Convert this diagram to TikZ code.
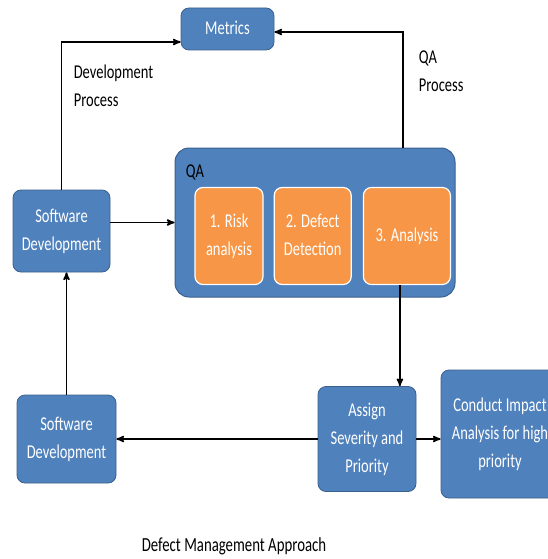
\documentclass[tikz,border=0pt]{standalone}
\usepackage{graphicx}
\usepackage{fontspec}
\setmainfont{Carlito}
\usetikzlibrary{arrows,positioning}
\definecolor{boxblue}{RGB}{79,129,189}
\definecolor{boxline}{RGB}{58,96,142}
\definecolor{boxorange}{RGB}{247,150,70}
\newcommand{\ctext}[1]{\scalebox{1}[1.35]{\begin{tabular}{@{}c@{}}#1\end{tabular}}}
\newcommand{\ltext}[1]{\scalebox{1}[1.35]{\begin{tabular}{@{}l@{}}#1\end{tabular}}}

\begin{document}
\begin{tikzpicture}[x=1pt,y=-1pt,->,>=stealth',line width=1.6pt,
		font=\fontsize{14.5}{20.7}\selectfont,
		blue node/.style={draw=boxline,fill=boxblue,line width=0.8pt,rounded corners=8pt,text=white,inner sep=1pt},
		step node/.style={draw=white,fill=boxorange,line width=1.2pt,rounded corners=8pt,text=white,inner sep=1pt},
		label node/.style={inner sep=0pt,anchor=north west}]
		\useasboundingbox (0,0) rectangle (548,559);
		\clip (0,0) rectangle (548,559);
		
		\node[blue node,minimum width=93pt,minimum height=42pt] (metrics) at (227.5,29) {\ctext{Metrics}};
		\node[blue node,minimum width=97pt,minimum height=82pt] (sd1) at (61.5,231) {\ctext{Software\\Development}};
		\node[blue node,minimum width=280pt,minimum height=149pt,line width=1pt,rounded corners=14pt] (qa) at (315,222.5) {};
		\node[label node,text=black] (qalabel) at (185,157) {\ltext{QA}};
		\node[step node,minimum width=68pt,minimum height=97pt] (risk) at (229,236) {\ctext{1. Risk\\analysis}};
		\node[step node,minimum width=77pt,minimum height=97pt] (detect) [right=10pt of risk] {\ctext{2. Defect\\Detection}};
		\node[step node,minimum width=87pt,minimum height=97pt] (analysis) [right=11pt of detect] {\ctext{3. Analysis}};
		\node[blue node,minimum width=98pt,minimum height=105pt] (assign) at (367,439) {\ctext{Assign\\Severity and\\Priority}};
		\node[blue node,minimum width=118pt,minimum height=128pt] (conduct) at (500,434) {\ctext{Conduct Impact\\Analysis for high\\priority}};
		\node[blue node,minimum width=99pt,minimum height=88pt] (sd2) at (66.5,439) {\ctext{Software\\Development}};
		
		\node[label node] (devlabel) at (73,58) {\ltext{Development\\Process}};
		\node[label node] (qaproc) at (418,43) {\ltext{QA\\Process}};
		\node[inner sep=0pt] (caption) at (234,546) {\scalebox{1}[1.35]{\fontsize{14.8}{18}\selectfont Defect Management Approach}};
		
		\draw (sd1.north) |- ([yshift=-13pt]metrics.west);
		\draw (403,148) |- ([yshift=-3pt]metrics.east);
		\draw (sd1.east |- qa.west) -- (qa.west);
		\draw ([xshift=-7pt]analysis.south) -- ([xshift=-7pt]analysis.south |- assign.north);
		\draw (assign.east) -- (assign.east -| conduct.west);
		\draw (assign.west) -- (sd2.east);
		\draw (sd2.north) -- (sd2.north |- sd1.south);
		
\end{tikzpicture}
\end{document}
